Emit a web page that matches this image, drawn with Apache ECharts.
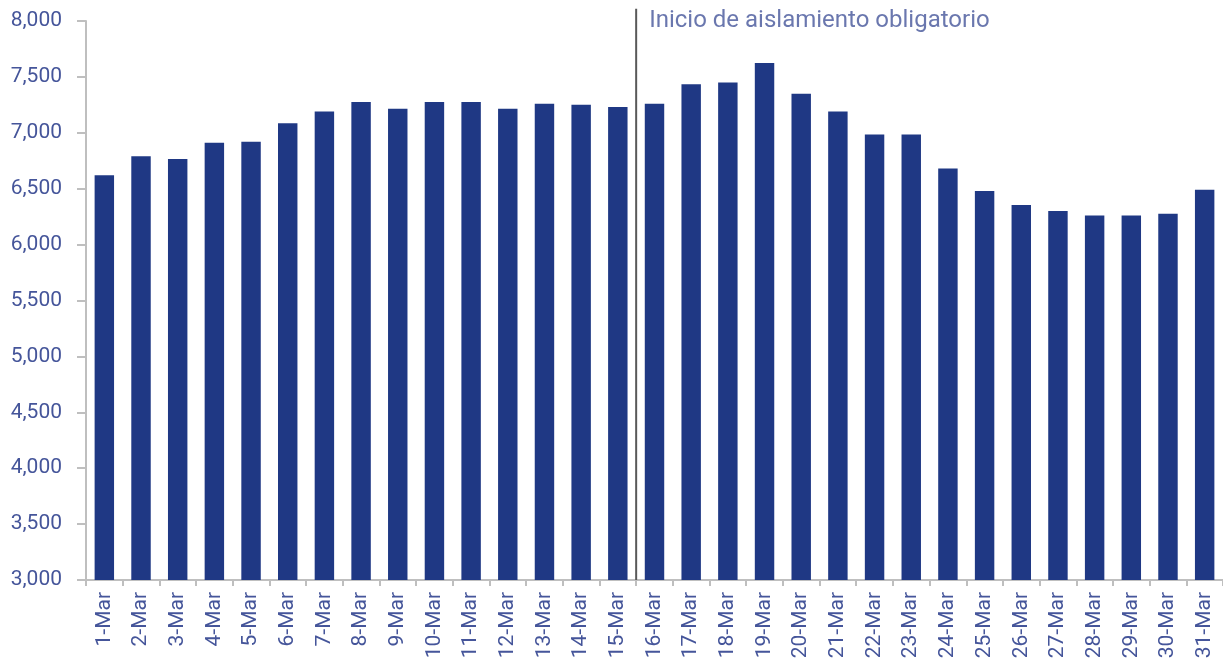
<!DOCTYPE html>
<html>
<head>
<meta charset="utf-8">
<script src="https://cdn.jsdelivr.net/npm/echarts@6/dist/echarts.min.js"></script>
<style>html,body{margin:0;padding:0;background:#fff}#c{width:1223px;height:666px}</style>
</head>
<body>
<div id="c"></div>
<script>
const categories = ['1-Mar','2-Mar','3-Mar','4-Mar','5-Mar','6-Mar','7-Mar','8-Mar','9-Mar','10-Mar','11-Mar','12-Mar','13-Mar','14-Mar','15-Mar','16-Mar','17-Mar','18-Mar','19-Mar','20-Mar','21-Mar','22-Mar','23-Mar','24-Mar','25-Mar','26-Mar','27-Mar','28-Mar','29-Mar','30-Mar','31-Mar'];
const values = [6620,6790,6765,6910,6920,7085,7190,7275,7215,7275,7275,7215,7260,7250,7230,7260,7435,7450,7625,7350,7190,6985,6985,6680,6480,6355,6300,6260,6260,6275,6490];
const yTicks = {min: 3000, max: 8000, interval: 500};
const markerPosition = 15; // boundary between 15-Mar and 16-Mar
const markerLine = [[markerPosition, 3000], [markerPosition, 8110]];
const annotationText = 'Inicio de aislamiento obligatorio';
const annotationPoint = [[markerPosition, 8000]];

const textColor = '#45559a';
const font = 'Roboto';
const chart = echarts.init(document.getElementById('c'));
chart.setOption({
  animation: false,
  grid: {left: 86, right: 0, top: 21, bottom: 86, containLabel: false},
  xAxis: [{
    type: 'category',
    data: categories,
    axisLine: {lineStyle: {color: '#bfbfbf', width: 2}},
    axisTick: {show: true, length: 6, lineStyle: {color: '#bfbfbf', width: 2}},
    axisLabel: {rotate: 90, interval: 0, color: textColor, fontFamily: font, fontSize: 21, margin: 12}
  }, {
    type: 'value', min: 0, max: categories.length, show: false
  }],
  yAxis: {
    type: 'value',
    min: yTicks.min, max: yTicks.max, interval: yTicks.interval,
    axisLine: {show: true, lineStyle: {color: '#bfbfbf', width: 2}},
    axisTick: {show: true, length: 9, lineStyle: {color: '#bfbfbf', width: 2}},
    splitLine: {show: false},
    axisLabel: {color: textColor, fontFamily: font, fontSize: 21, margin: 24,
      formatter: v => v.toLocaleString('en-US')}
  },
  series: [{
    type: 'bar',
    data: values,
    barWidth: '53%',
    itemStyle: {color: '#1f3884'}
  }, {
    type: 'line',
    xAxisIndex: 1,
    data: markerLine,
    symbol: 'none',
    clip: false,
    lineStyle: {color: '#595959', width: 2},
    z: 5
  }, {
    type: 'scatter',
    xAxisIndex: 1,
    data: annotationPoint,
    symbolSize: 0,
    clip: false,
    label: {show: true, position: 'right', distance: 13, formatter: annotationText,
      color: textColor, fontFamily: font, fontSize: 24}
  }]
});
</script>
</body>
</html>
